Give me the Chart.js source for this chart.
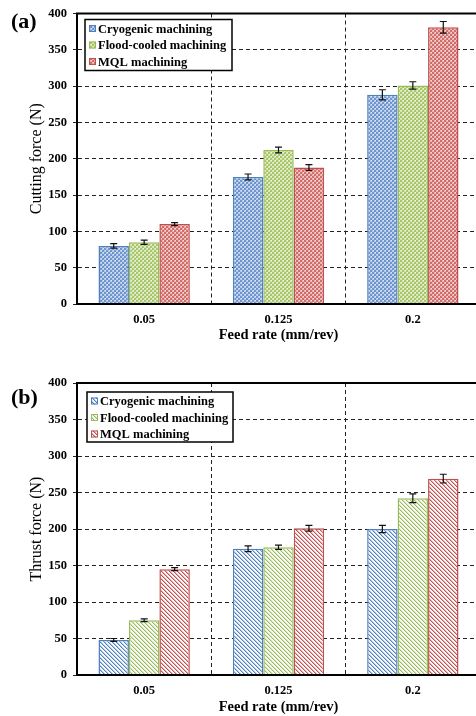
<!DOCTYPE html>
<html>
<head>
<meta charset="utf-8">
<script src="https://cdn.jsdelivr.net/npm/chart.js@4.4.1/dist/chart.umd.min.js"></script>
<style>
  html, body { margin: 0; padding: 0; background: #fff; overflow: hidden; }
  #wrap { width: 476px; height: 716px; overflow: hidden; position: relative; }
  canvas { display: block; }
</style>
</head>
<body>
<div id="wrap">
  <canvas id="chartA" width="490" height="350"></canvas>
  <canvas id="chartB" width="490" height="366"></canvas>
</div>
<script>
// feed rates on the x axis
var feedRates = ['0.05', '0.125', '0.2'];
var seriesNames = ['Cryogenic machining', 'Flood-cooled machining', 'MQL machining'];
var yTicks = [0, 50, 100, 150, 200, 250, 300, 350, 400];

// (a) cutting force, N
var cuttingCryo = [80, 175, 288];
var cuttingFlood = [85, 212, 301];
var cuttingMql = [110, 188, 381];
var cuttingCryoErr = [3, 4, 7];
var cuttingFloodErr = [3, 4, 5];
var cuttingMqlErr = [2, 4, 8];

// (b) thrust force, N
var thrustCryo = [48, 173, 200];
var thrustFlood = [75, 175, 242];
var thrustMql = [145, 201, 269];
var thrustCryoErr = [2, 4, 5];
var thrustFloodErr = [2, 3, 6];
var thrustMqlErr = [2, 4, 6];

var COLORS = [
    {line: '#4f81bd', dark: '#6f95cf', light: '#b4c8e8'},
    {line: '#9bbb59', dark: '#a9c66b', light: '#d6e5b5'},
    {line: '#c0504d', dark: '#d06e6b', light: '#eab1b0'}
];
var SERIF = '"Liberation Serif", "Times New Roman", serif';

function checkerPattern(ctx, c) {
    var t = document.createElement('canvas');
    t.width = 4; t.height = 4;
    var g = t.getContext('2d');
    g.fillStyle = c.light;
    g.fillRect(0, 0, 4, 4);
    g.fillStyle = c.dark;
    g.fillRect(0, 0, 2, 2);
    g.fillRect(2, 2, 2, 2);
    g.fillStyle = 'rgba(255,255,255,0.55)';
    g.fillRect(3, 0, 1, 1);
    g.fillRect(1, 2, 1, 1);
    return ctx.createPattern(t, 'repeat');
}

function hatchPattern(ctx, c) {
    var t = document.createElement('canvas');
    t.width = 4; t.height = 4;
    var g = t.getContext('2d');
    g.fillStyle = '#f8f9fb';
    g.fillRect(0, 0, 4, 4);
    g.fillStyle = c.light;
    for (var i = 0; i < 4; i++) g.fillRect((i + 1) % 4, i, 1, 1);
    g.fillStyle = c.line;
    for (var j = 0; j < 4; j++) g.fillRect(j, j, 1, 1);
    return ctx.createPattern(t, 'repeat');
}

// error bars drawn from dataset.errors through the y scale
var errorBars = {
    id: 'errorBars',
    afterDatasetsDraw: function(chart) {
        var ctx = chart.ctx;
        var yScale = chart.scales.y;
        ctx.save();
        ctx.strokeStyle = '#111';
        ctx.lineWidth = 1.2;
        chart.data.datasets.forEach(function(ds, di) {
            var meta = chart.getDatasetMeta(di);
            meta.data.forEach(function(bar, i) {
                var v = ds.data[i], e = ds.errors[i];
                var yt = yScale.getPixelForValue(v + e);
                var yb = yScale.getPixelForValue(v - e);
                var x = bar.x;
                ctx.beginPath();
                ctx.moveTo(x, yt); ctx.lineTo(x, yb);
                ctx.moveTo(x - 3.5, yt); ctx.lineTo(x + 3.5, yt);
                ctx.moveTo(x - 3.5, yb); ctx.lineTo(x + 3.5, yb);
                ctx.stroke();
            });
        });
        ctx.restore();
    }
};

// frame, panel letter and boxed legend
var framePlugin = {
    id: 'frame',
    afterDraw: function(chart, args, opts) {
        var ctx = chart.ctx;
        var a = chart.chartArea;
        ctx.save();
        ctx.strokeStyle = '#000';
        ctx.lineWidth = 2;
        ctx.strokeRect(a.left, a.top, a.right - a.left, a.bottom - a.top);

        ctx.fillStyle = '#000';
        ctx.font = 'bold 22px ' + SERIF;
        ctx.textBaseline = 'middle';
        ctx.textAlign = 'left';
        ctx.fillText(opts.letter, 11, opts.letterY);

        var lx = a.left + opts.legendX, ly = a.top + opts.legendY;
        ctx.fillStyle = '#fff';
        ctx.fillRect(lx, ly, opts.legendW, opts.legendH);
        ctx.lineWidth = 1.5;
        ctx.strokeRect(lx, ly, opts.legendW, opts.legendH);
        ctx.font = 'bold 12.5px ' + SERIF;
        chart.data.datasets.forEach(function(ds, i) {
            var cy = ly + 9 + i * 16.5;
            ctx.fillStyle = ds.backgroundColor;
            ctx.fillRect(lx + 4, cy - 3.5, 7, 7);
            ctx.strokeStyle = ds.borderColor;
            ctx.lineWidth = 1;
            ctx.strokeRect(lx + 4.5, cy - 3, 6, 6);
            ctx.fillStyle = '#000';
            ctx.fillText(ds.label, lx + 13, cy + 1);
        });
        ctx.restore();
    }
};

function makeChart(id, values, errors, patternFn, yTitle, opts) {
    var ctx = document.getElementById(id).getContext('2d');
    var datasets = values.map(function(v, i) {
        return {
            label: seriesNames[i],
            data: v,
            errors: errors[i],
            backgroundColor: patternFn(ctx, COLORS[i]),
            borderColor: COLORS[i].line,
            borderWidth: 1.5,
            borderSkipped: 'bottom',
            categoryPercentage: 0.68,
            barPercentage: 1.0
        };
    });
    return new Chart(ctx, {
        type: 'bar',
        data: {labels: feedRates, datasets: datasets},
        plugins: [errorBars, framePlugin],
        options: {
            responsive: false,
            animation: false,
            layout: {padding: {top: opts.top, right: 10, bottom: 0, left: 0}},
            plugins: {
                legend: {display: false},
                tooltip: {enabled: false},
                frame: opts.frame
            },
            scales: {
                x: {
                    grid: {
                        offset: true,
                        drawTicks: false,
                        color: '#222',
                        lineWidth: 1
                    },
                    border: {display: true, color: '#000', width: 2, dash: [4, 3]},
                    ticks: {
                        color: '#000',
                        padding: 8,
                        font: {family: SERIF, size: 12.5, weight: 'bold'}
                    },
                    title: {
                        display: true,
                        text: 'Feed rate (mm/rev)',
                        color: '#000',
                        padding: {top: 0, bottom: opts.xTitlePad},
                        font: {family: SERIF, size: 14.5, weight: 'bold'}
                    },
                    afterFit: function(scale) { scale.height = opts.xHeight; }
                },
                y: {
                    min: 0,
                    max: 400,
                    afterBuildTicks: function(scale) {
                        scale.ticks = yTicks.map(function(v) { return {value: v}; });
                    },
                    grid: {
                        color: '#222',
                        lineWidth: 1,
                        drawTicks: true,
                        tickLength: 4
                    },
                    border: {display: true, color: '#000', width: 2, dash: [4, 3]},
                    ticks: {
                        color: '#000',
                        padding: 6,
                        font: {family: SERIF, size: 12.5, weight: 'bold'}
                    },
                    title: {
                        display: true,
                        text: yTitle,
                        color: '#000',
                        padding: {top: 27, bottom: 0},
                        font: {family: SERIF, size: 16}
                    },
                    afterFit: function(scale) { scale.width = 77; }
                }
            }
        }
    });
}

makeChart('chartA',
    [cuttingCryo, cuttingFlood, cuttingMql],
    [cuttingCryoErr, cuttingFloodErr, cuttingMqlErr],
    checkerPattern, 'Cutting force (N)',
    {top: 13, xHeight: 46, xTitlePad: 6,
     frame: {letter: '(a)', letterY: 22, legendX: 8, legendY: 6, legendW: 147, legendH: 51}});

makeChart('chartB',
    [thrustCryo, thrustFlood, thrustMql],
    [thrustCryoErr, thrustFloodErr, thrustMqlErr],
    hatchPattern, 'Thrust force (N)',
    {top: 33, xHeight: 41, xTitlePad: 0,
     frame: {letter: '(b)', letterY: 48, legendX: 10, legendY: 9, legendW: 146, legendH: 50}});
</script>
</body>
</html>
